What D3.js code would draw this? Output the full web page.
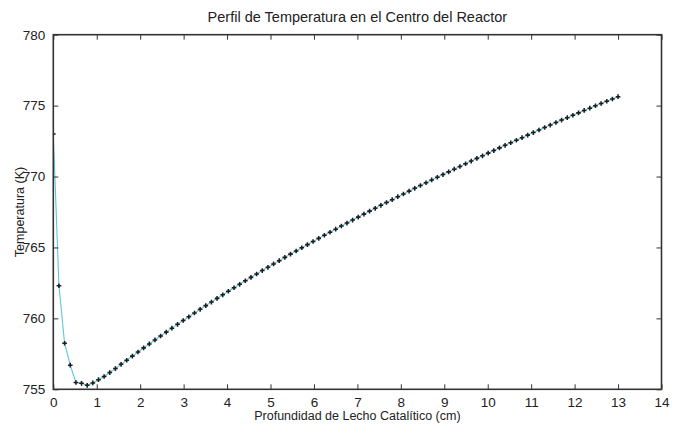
<!DOCTYPE html>
<html>
<head>
<meta charset="utf-8">
<script src="https://cdn.jsdelivr.net/npm/d3@7"></script>
<style>
  html, body { margin: 0; padding: 0; background: #fff; }
  svg { display: block; font-family: "Liberation Sans", Arial, sans-serif; }
</style>
</head>
<body>
<svg id="chart" width="678" height="428"></svg>
<script>
// Bed depth (cm) and centre-line temperature (K)
const depth = [
  0.00, 0.13, 0.26, 0.39, 0.52, 0.65, 0.78, 0.91, 1.04, 1.17,
  1.30, 1.43, 1.56, 1.69, 1.82, 1.95, 2.08, 2.21, 2.34, 2.47,
  2.60, 2.73, 2.86, 2.99, 3.12, 3.25, 3.38, 3.51, 3.64, 3.77,
  3.90, 4.03, 4.16, 4.29, 4.42, 4.55, 4.68, 4.81, 4.94, 5.07,
  5.20, 5.33, 5.46, 5.59, 5.72, 5.85, 5.98, 6.11, 6.24, 6.37,
  6.50, 6.63, 6.76, 6.89, 7.02, 7.15, 7.28, 7.41, 7.54, 7.67,
  7.80, 7.93, 8.06, 8.19, 8.32, 8.45, 8.58, 8.71, 8.84, 8.97,
  9.10, 9.23, 9.36, 9.49, 9.62, 9.75, 9.88, 10.01, 10.14, 10.27,
  10.40, 10.53, 10.66, 10.79, 10.92, 11.05, 11.18, 11.31, 11.44, 11.57,
  11.70, 11.83, 11.96, 12.09, 12.22, 12.35, 12.48, 12.61, 12.74, 12.87,
  13.00
];
const temperature = [
  773.00, 762.30, 758.25, 756.70, 755.48, 755.42, 755.28, 755.45, 755.68, 755.90,
  756.18, 756.46, 756.76, 757.05, 757.34, 757.63, 757.92, 758.20, 758.48, 758.76,
  759.03, 759.31, 759.58, 759.85, 760.11, 760.38, 760.64, 760.90, 761.15, 761.41,
  761.66, 761.91, 762.16, 762.40, 762.65, 762.89, 763.13, 763.37, 763.60, 763.84,
  764.07, 764.30, 764.53, 764.75, 764.98, 765.20, 765.42, 765.64, 765.86, 766.07,
  766.29, 766.51, 766.72, 766.93, 767.14, 767.35, 767.56, 767.76, 767.97, 768.17,
  768.37, 768.58, 768.77, 768.97, 769.17, 769.37, 769.56, 769.76, 769.95, 770.14,
  770.33, 770.52, 770.71, 770.90, 771.09, 771.28, 771.46, 771.65, 771.83, 772.02,
  772.20, 772.38, 772.56, 772.74, 772.92, 773.10, 773.28, 773.46, 773.63, 773.81,
  773.98, 774.15, 774.32, 774.49, 774.66, 774.82, 774.99, 775.15, 775.31, 775.47,
  775.63
];
const xTicks = [0, 1, 2, 3, 4, 5, 6, 7, 8, 9, 10, 11, 12, 13, 14];
const yTicks = [755, 760, 765, 770, 775, 780];

const svg = d3.select("#chart");
const box = { left: 53.3, right: 661.5, top: 34.7, bottom: 389.3 };
const frame = "#333";

const x = d3.scaleLinear().domain([0, 14]).range([box.left, box.right]);
const y = d3.scaleLinear().domain([755, 780]).range([box.bottom, box.top]);

const points = depth.map((d, i) => ({ d, t: temperature[i] }));

// clip the curve to the axes box
svg.append("defs").append("clipPath").attr("id", "plotClip")
  .append("rect").attr("x", box.left).attr("y", box.top)
  .attr("width", box.right - box.left).attr("height", box.bottom - box.top);

const plot = svg.append("g").attr("clip-path", "url(#plotClip)");

plot.append("path")
  .datum(points)
  .attr("fill", "none")
  .attr("stroke", "#5cc6dc")
  .attr("stroke-width", 1.1)
  .attr("d", d3.line().x(p => x(p.d)).y(p => y(p.t)));

plot.selectAll("path.marker")
  .data(points)
  .join("path")
  .attr("class", "marker")
  .attr("transform", p => `translate(${x(p.d)},${y(p.t)})`)
  .attr("d", d3.symbol().type(d3.symbolCross).size(12))
  .attr("fill", "#1c1c1c");

// Axes: inward ticks on all four sides (boxed frame)
function styleAxis(g) {
  g.select(".domain").remove();
  g.selectAll(".tick line").attr("stroke", frame).attr("stroke-width", 1);
  g.selectAll(".tick text")
    .attr("fill", "#222")
    .attr("font-size", 13.5)
    .attr("font-family", "'Liberation Sans', Arial, sans-serif");
}

svg.append("g")
  .attr("transform", `translate(0,${box.bottom})`)
  .call(d3.axisBottom(x).tickValues(xTicks).tickFormat(d3.format("d"))
    .tickSizeInner(-5).tickSizeOuter(0).tickPadding(8))
  .call(styleAxis);

svg.append("g")
  .attr("transform", `translate(0,${box.top})`)
  .call(d3.axisTop(x).tickValues(xTicks).tickFormat("")
    .tickSizeInner(-5).tickSizeOuter(0))
  .call(styleAxis);

svg.append("g")
  .attr("transform", `translate(${box.left},0)`)
  .call(d3.axisLeft(y).tickValues(yTicks).tickFormat(d3.format("d"))
    .tickSizeInner(-5).tickSizeOuter(0).tickPadding(8))
  .call(styleAxis);

svg.append("g")
  .attr("transform", `translate(${box.right},0)`)
  .call(d3.axisRight(y).tickValues(yTicks).tickFormat("")
    .tickSizeInner(-5).tickSizeOuter(0))
  .call(styleAxis);

// box frame
svg.append("rect")
  .attr("x", box.left).attr("y", box.top)
  .attr("width", box.right - box.left).attr("height", box.bottom - box.top)
  .attr("fill", "none").attr("stroke", frame).attr("stroke-width", 1.6);

svg.append("text")
  .attr("x", (box.left + box.right) / 2).attr("y", 22)
  .attr("text-anchor", "middle")
  .attr("font-size", 14.5).attr("fill", "#222")
  .text("Perfil de Temperatura en el Centro del Reactor");

svg.append("text")
  .attr("x", (box.left + box.right) / 2).attr("y", 420)
  .attr("text-anchor", "middle")
  .attr("font-size", 12.5).attr("fill", "#222")
  .text("Profundidad de Lecho Catalítico (cm)");

svg.append("text")
  .attr("transform", `translate(24,${(box.top + box.bottom) / 2}) rotate(-90)`)
  .attr("text-anchor", "middle")
  .attr("font-size", 12.5).attr("fill", "#222")
  .text("Temperatura (K)");
</script>
</body>
</html>
